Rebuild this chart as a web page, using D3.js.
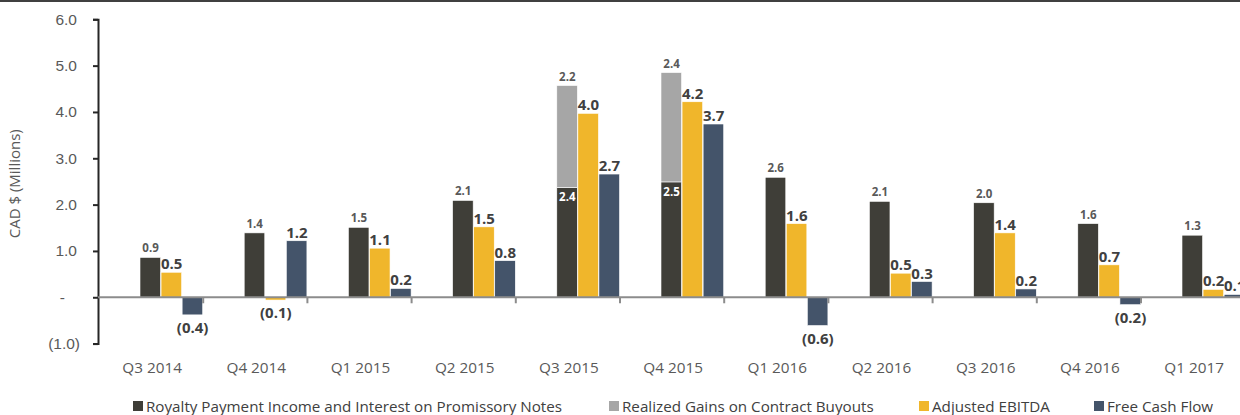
<!DOCTYPE html>
<html>
<head>
<meta charset="utf-8">
<script src="https://cdn.jsdelivr.net/npm/d3@7"></script>
<style>
  body { margin: 0; background: #fff; }
  svg { display: block; font-family: "Open Sans", sans-serif; }
</style>
</head>
<body>
<div id="chart"></div>
<script>
// quarters on the x axis
var quarters = ["Q3 2014","Q4 2014","Q1 2015","Q2 2015","Q3 2015","Q4 2015","Q1 2016","Q2 2016","Q3 2016","Q4 2016","Q1 2017"]

// series values, CAD $ millions
var royalty  = [0.86, 1.39, 1.51, 2.09, 2.37, 2.49, 2.59, 2.07, 2.04, 1.59, 1.34]
var buyouts  = [0, 0, 0, 0, 2.20, 2.36, 0, 0, 0, 0, 0]
var ebitda   = [0.54, -0.06, 1.06, 1.52, 3.97, 4.22, 1.59, 0.52, 1.39, 0.70, 0.17]
var fcf      = [-0.38, 1.22, 0.19, 0.79, 2.66, 3.74, -0.61, 0.34, 0.18, -0.16, 0.06]

var yTicks = [-1, 0, 1, 2, 3, 4, 5, 6]
var seriesNames = ["Royalty Payment Income and Interest on Promissory Notes", "Realized Gains on Contract Buyouts", "Adjusted EBITDA", "Free Cash Flow"]

var colors = {royalty: "#3f3e38", buyouts: "#a6a6a6", ebitda: "#f0b62b", fcf: "#44546a"}

var width = 1240
var height = 415

var svg = d3.select("#chart").append("svg")
  .attr("width", width)
  .attr("height", height)

// top frame line
svg.append("line")
  .attr("x1", 0).attr("x2", width)
  .attr("y1", 1).attr("y2", 1)
  .style("stroke", "#404040")
  .style("stroke-width", 2)

var x = d3.scaleBand()
  .domain(quarters)
  .range([99, 99 + 104.2 * quarters.length])

// bars sit in the right part of each category slot
var xs = d3.scaleBand()
  .domain(["stack", "ebitda", "fcf"])
  .range([41, 104.2])

var y = d3.scaleLinear()
  .domain([-1, 6])
  .range([343.6, 19.3])

function fmt(v) {
  return v < 0 ? "(" + Math.abs(v).toFixed(1) + ")" : v.toFixed(1)
}

// y axis
var yAxis = svg.append("g")
  .attr("transform", "translate(98,0)")
  .call(d3.axisLeft(y).tickValues(yTicks).tickSize(5).tickPadding(16)
    .tickFormat(function(d) { return d == 0 ? "-" : (d < 0 ? "(" + Math.abs(d).toFixed(1) + ")" : d.toFixed(1)) }))
yAxis.select(".domain").style("stroke", "#262626").style("stroke-width", 2)
yAxis.selectAll(".tick line").style("stroke", "#262626").style("stroke-width", 2)
yAxis.selectAll("text")
  .style("font-size", "15.5px")
  .style("fill", "#595959")
  .attr("dx", function(d) { return d == 0 ? -12 : (d < 0 ? 3 : 0) })

svg.append("text")
  .attr("transform", "translate(20," + y(2.45) + ") rotate(-90)")
  .style("text-anchor", "middle")
  .style("font-size", "15px")
  .style("fill", "#595959")
  .text("CAD $ (Millions)")

var data = quarters.map(function(q, i) {
  return {q: q, royalty: royalty[i], buyouts: buyouts[i], ebitda: ebitda[i], fcf: fcf[i]}
})

var groups = svg.selectAll(".grp")
  .data(data)
  .enter()
  .append("g")
  .attr("transform", function(d) { return "translate(" + x(d.q) + ",0)" })

var bw = xs.bandwidth()

function bar(sel, key, base, col) {
  sel.append("rect")
    .attr("x", xs(key == "royalty" || key == "buyouts" ? "stack" : key))
    .attr("width", bw - 0.5)
    .attr("y", function(d) { var v0 = base(d), v1 = v0 + d[col]; return y(Math.max(v0, v1)) })
    .attr("height", function(d) { var v0 = base(d), v1 = v0 + d[col]; return Math.abs(y(v0) - y(v1)) })
    .style("fill", colors[col])
    .style("stroke", "#ffffff")
    .style("stroke-width", 0.6)
}

bar(groups, "royalty", function() { return 0 }, "royalty")
bar(groups.filter(function(d) { return d.buyouts > 0 }), "buyouts", function(d) { return d.royalty }, "buyouts")
bar(groups, "ebitda", function() { return 0 }, "ebitda")
bar(groups, "fcf", function() { return 0 }, "fcf")

// zero line
svg.append("line")
  .attr("x1", 98).attr("x2", width)
  .attr("y1", y(0)).attr("y2", y(0))
  .style("stroke", "#8c8c8c")
  .style("stroke-width", 2)

// category boundary ticks on zero line
svg.selectAll(".ctick")
  .data(quarters)
  .enter()
  .append("line")
  .attr("x1", function(d) { return x(d) + x.bandwidth() })
  .attr("x2", function(d) { return x(d) + x.bandwidth() })
  .attr("y1", y(0))
  .attr("y2", y(0) + 6)
  .style("stroke", "#8c8c8c")
  .style("stroke-width", 2)

// category labels
svg.selectAll(".clabel")
  .data(quarters)
  .enter()
  .append("text")
  .attr("x", function(d) { return x(d) + x.bandwidth() / 2 + 1 })
  .attr("y", 373)
  .style("text-anchor", "middle")
  .style("font-size", "15.3px")
  .style("fill", "#595959")
  .text(function(d) { return d })

// royalty labels: above bar, or inside in white when stacked
groups.append("text")
  .attr("x", xs("stack") + bw / 2)
  .attr("y", function(d) { return d.buyouts > 0 ? y(d.royalty) + 14 : y(d.royalty) - 5 })
  .style("text-anchor", "middle")
  .style("font-size", "11.5px")
  .style("font-weight", "bold")
  .style("fill", function(d) { return d.buyouts > 0 ? "#ffffff" : "#595959" })
  .text(function(d) { return fmt(d.royalty) })

groups.filter(function(d) { return d.buyouts > 0 })
  .append("text")
  .attr("x", xs("stack") + bw / 2)
  .attr("y", function(d) { return y(d.royalty + d.buyouts) - 5 })
  .style("text-anchor", "middle")
  .style("font-size", "11.5px")
  .style("font-weight", "bold")
  .style("fill", "#595959")
  .text(function(d) { return fmt(d.buyouts) })

;["ebitda", "fcf"].forEach(function(key) {
  groups.append("text")
    .attr("x", xs(key) + bw / 2)
    .attr("y", function(d) { return d[key] < 0 ? y(d[key]) + 18 : y(d[key]) - 3 })
    .style("text-anchor", "middle")
    .style("font-size", "15px")
    .style("font-weight", "bold")
    .style("fill", "#404040")
    .text(function(d) { return fmt(d[key]) })
})

// legend
var legendX = [133, 609, 919, 1094]
var legendCol = [colors.royalty, colors.buyouts, colors.ebitda, colors.fcf]
var leg = svg.selectAll(".leg")
  .data(seriesNames)
  .enter()
  .append("g")
  .attr("transform", function(d, i) { return "translate(" + legendX[i] + ",406)" })

leg.append("rect")
  .attr("x", 0).attr("y", -5)
  .attr("width", 10).attr("height", 10)
  .style("fill", function(d, i) { return legendCol[i] })

leg.append("text")
  .attr("x", 13)
  .attr("y", 5.5)
  .style("font-size", "15.2px")
  .style("fill", "#404040")
  .text(function(d) { return d })
</script>
</body>
</html>
